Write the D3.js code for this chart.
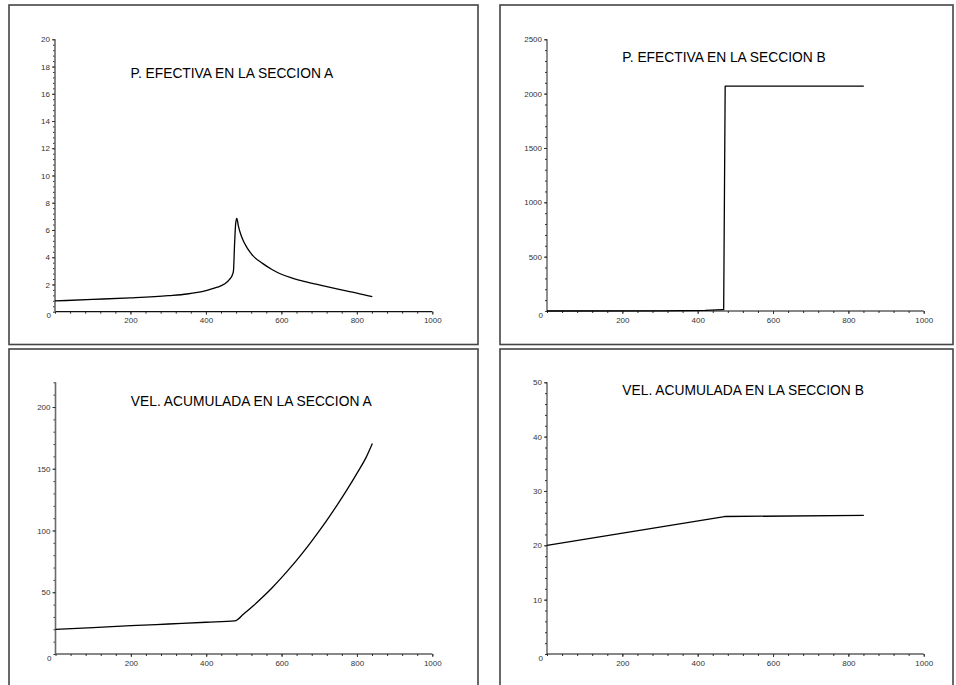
<!DOCTYPE html>
<html>
<head>
<meta charset="utf-8">
<script src="https://cdn.jsdelivr.net/npm/d3@7"></script>
<style>
  body { margin: 0; background: #fff; }
  svg { display: block; }
  text { font-family: "Liberation Sans", Arial, Helvetica, sans-serif; }
</style>
</head>
<body>
<svg id="chart" width="956" height="685"></svg>
<script>
// ---- series: abscissa 0..1000, one array pair per panel ----
const titles = [
  "P. EFECTIVA EN LA SECCION A",
  "P. EFECTIVA EN LA SECCION B",
  "VEL. ACUMULADA EN LA SECCION A",
  "VEL. ACUMULADA EN LA SECCION B"
];

const pefA_x = [0, 100, 200, 300, 350, 400, 430, 450, 462, 470, 473, 476, 479, 482, 486, 492, 500, 510, 525, 550, 575, 600, 625, 650, 700, 750, 800, 841];
const pefA_y = [0.79, 0.9, 1.02, 1.18, 1.3, 1.55, 1.8, 2.05, 2.35, 2.7, 3.0, 5.0, 6.5, 6.85, 6.3, 5.7, 5.15, 4.65, 4.1, 3.55, 3.1, 2.75, 2.5, 2.3, 1.97, 1.66, 1.37, 1.1];

const pefB_x = [0, 300, 420, 465, 469, 473, 841];
const pefB_y = [0, 2, 5, 12, 12, 2070, 2070];

const velA_x = [0, 100, 200, 300, 400, 476, 500, 525, 550, 575, 600, 625, 650, 675, 700, 725, 750, 775, 800, 825, 841];
const velA_y = [20, 21.4, 22.9, 24.3, 25.7, 26.8, 32.6, 39.1, 46.1, 53.7, 61.8, 70.5, 79.7, 89.4, 99.7, 110.5, 121.8, 133.7, 146.3, 159.6, 170.5];

const velB_x = [0, 471, 841];
const velB_y = [20, 25.3, 25.5];

// ---- tick values ----
const xMajor = [200, 400, 600, 800, 1000];
const xMinor = d3.range(0, 1001, 40);
const yMajorPefA = [2, 4, 6, 8, 10, 12, 14, 16, 18, 20];
const yMinorPefA = d3.range(0, 20.01, 0.4);
const yMajorPefB = [500, 1000, 1500, 2000, 2500];
const yMinorPefB = d3.range(0, 2501, 100);
const yMajorVelA = [50, 100, 150, 200];
const yMinorVelA = d3.range(0, 221, 10);
const yMajorVelB = [10, 20, 30, 40, 50];
const yMinorVelB = d3.range(0, 50.01, 2);

// ---- panel layout ----
const panels = [
  { title: titles[0], xs: pefA_x, ys: pefA_y, yMax: 20, yMajor: yMajorPefA, yMinor: yMinorPefA,
    frame: [9, 5, 478, 344.5], px: [55, 432.3], py: [311.7, 39.3], yAxisW: 1.6, yAxisC: "#6a6a6a",
    titlePos: [200, 17.5], curve: d3.curveMonotoneX },
  { title: titles[1], xs: pefB_x, ys: pefB_y, yMax: 2500, yMajor: yMajorPefB, yMinor: yMinorPefB,
    frame: [500, 5, 953, 344.5], px: [547, 923.7], py: [311, 39.3], yAxisW: 1.1, yAxisC: "#333",
    titlePos: [200, 2335], curve: d3.curveLinear },
  { title: titles[2], xs: velA_x, ys: velA_y, yMax: 220, yMajor: yMajorVelA, yMinor: yMinorVelA,
    frame: [9, 349, 478, 700], px: [55.5, 432.3], py: [654, 382.3], yAxisW: 1.6, yAxisC: "#6a6a6a",
    titlePos: [200, 204.5], curve: d3.curveMonotoneX },
  { title: titles[3], xs: velB_x, ys: velB_y, yMax: 50, yMajor: yMajorVelB, yMinor: yMinorVelB,
    frame: [500, 349, 953, 700], px: [547, 923.7], py: [654, 382.3], yAxisW: 1.1, yAxisC: "#333",
    titlePos: [200, 48.6], curve: d3.curveLinear }
];

const svg = d3.select("#chart");

panels.forEach(p => {
  const [fx0, fy0, fx1, fy1] = p.frame;
  svg.append("rect")
    .attr("x", fx0).attr("y", fy0)
    .attr("width", fx1 - fx0).attr("height", fy1 - fy0)
    .attr("fill", "none").attr("stroke", "#444").attr("stroke-width", 1.6);

  const x = d3.scaleLinear().domain([0, 1000]).range(p.px);
  const y = d3.scaleLinear().domain([0, p.yMax]).range(p.py);
  const g = svg.append("g");

  // minor ticks
  g.append("g").attr("transform", `translate(0,${p.py[0]})`)
    .call(d3.axisBottom(x).tickValues(xMinor).tickSize(2).tickFormat(""))
    .call(a => a.select(".domain").remove())
    .call(a => a.selectAll("line").attr("stroke", "#333"));
  g.append("g").attr("transform", `translate(${p.px[0]},0)`)
    .call(d3.axisLeft(y).tickValues(p.yMinor).tickSize(2).tickFormat(""))
    .call(a => a.select(".domain").remove())
    .call(a => a.selectAll("line").attr("stroke", "#333"));

  // major ticks with labels
  g.append("g").attr("transform", `translate(0,${p.py[0]})`)
    .call(d3.axisBottom(x).tickValues(xMajor).tickSize(3).tickPadding(3).tickFormat(d3.format("d")))
    .call(a => a.select(".domain").attr("d", `M${p.px[0]},0H${p.px[1]}`).attr("stroke", "#111").attr("stroke-width", 1.2))
    .call(a => a.selectAll("line").attr("stroke", "#333"))
    .call(a => a.selectAll("text").attr("font-size", 8).attr("fill", "#333")
      .attr("font-family", "'Liberation Sans', Arial, sans-serif"));
  g.append("g").attr("transform", `translate(${p.px[0]},0)`)
    .call(d3.axisLeft(y).tickValues(p.yMajor).tickSize(3).tickPadding(2).tickFormat(d3.format("d")))
    .call(a => a.select(".domain").attr("d", `M0,${p.py[0]}V${p.py[1]}`).attr("stroke", p.yAxisC).attr("stroke-width", p.yAxisW))
    .call(a => a.selectAll("line").attr("stroke", "#333"))
    .call(a => a.selectAll("text").attr("font-size", 8).attr("fill", "#333")
      .attr("font-family", "'Liberation Sans', Arial, sans-serif"));

  // shared origin label
  g.append("text")
    .attr("x", x(0) - 4).attr("y", y(0) + 6.5)
    .attr("text-anchor", "end")
    .attr("font-size", 8).attr("fill", "#333")
    .text("0");

  // curve
  const line = d3.line()
    .x((d, i) => x(p.xs[i]))
    .y(d => y(d))
    .curve(p.curve);
  g.append("path")
    .attr("d", line(p.ys))
    .attr("fill", "none").attr("stroke", "#000").attr("stroke-width", 1.3)
    .attr("stroke-linejoin", "round");

  // title
  g.append("text")
    .attr("x", x(p.titlePos[0])).attr("y", y(p.titlePos[1]) + 4.8)
    .attr("font-size", 13.8).attr("fill", "#000")
    .text(p.title);
});
</script>
</body>
</html>
